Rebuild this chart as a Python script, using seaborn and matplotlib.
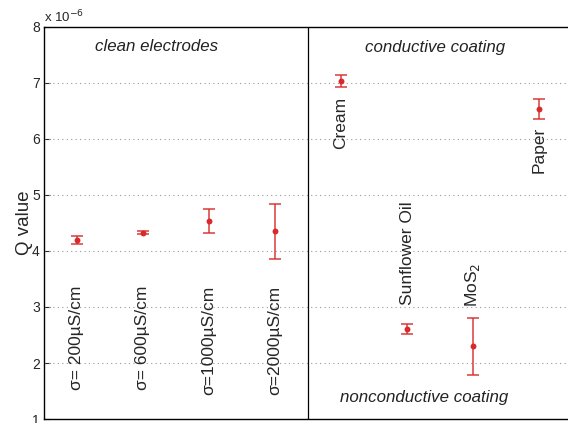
import matplotlib
matplotlib.use("Agg")
import matplotlib.pyplot as plt
import seaborn as sns
import numpy as np
import pandas as pd

# Data (Q value in units of 1e-6)
categories = ["σ= 200µS/cm", "σ= 600µS/cm", "σ=1000µS/cm", "σ=2000µS/cm",
              "Cream", "Sunflower Oil", "MoS$_2$", "Paper"]
q_mean = [4.19, 4.33, 4.54, 4.35, 7.04, 2.61, 2.30, 6.54]
q_low = [4.12, 4.31, 4.33, 3.85, 6.92, 2.52, 1.79, 6.36]
q_high = [4.26, 4.35, 4.75, 4.84, 7.15, 2.70, 2.81, 6.71]
group_labels = ["clean electrodes", "conductive coating", "nonconductive coating"]
yticks = [1, 2, 3, 4, 5, 6, 7, 8]

df = pd.DataFrame({"pos": np.arange(1, len(categories) + 1), "q": q_mean,
                   "lo": q_low, "hi": q_high, "label": categories})

sns.set_style("white")
plt.rcParams["font.family"] = ["Liberation Sans", "DejaVu Sans"]

fig = plt.figure(figsize=(5.68, 4.23), dpi=100)
ax = fig.add_axes([44 / 568, 1 - 419 / 423, 528 / 568, (419 - 27) / 423])

red = "#d82a2a"
ax.errorbar(df["pos"], df["q"],
            yerr=[df["q"] - df["lo"], df["hi"] - df["q"]],
            fmt="none", ecolor=red, elinewidth=1.2, capsize=4.2, capthick=1.2,
            alpha=0.85, zorder=3)
sns.scatterplot(data=df, x="pos", y="q", color=red, s=18, edgecolor=red,
                linewidth=0, ax=ax, zorder=4)

ax.set_xlim(0.5, 8.5)
ax.set_ylim(1, 8)
ax.set_yticks(yticks)
ax.set_yticklabels([str(t) for t in yticks], fontsize=10)
ax.set_xticks([])
ax.set_xlabel("")
ax.set_ylabel("Q value", fontsize=13.5, labelpad=-1)
ax.tick_params(axis="y", direction="in", length=4, width=0.8, pad=3, left=True)

for s in ["left", "top", "bottom"]:
    ax.spines[s].set_color("black")
    ax.spines[s].set_linewidth(1.0)
ax.spines["right"].set_visible(False)

for t in yticks[1:-1]:
    ax.axhline(t, color="#9a9a9a", linestyle=(0, (1, 3)), linewidth=0.8, zorder=1)
ax.axvline(4.5, color="black", linewidth=0.9, zorder=2)

# Offset text
ax.text(0.0, 1.005, "x 10$^{-6}$", transform=ax.transAxes, fontsize=9.5,
        ha="left", va="bottom")

# Category labels (rotated)
lab_fs = 12.5
for i in range(4):
    ax.text(df["pos"][i], 3.38, categories[i], rotation=90, ha="center",
            va="top", fontsize=lab_fs)
ax.text(df["pos"][4], 6.76, categories[4], rotation=90, ha="center", va="top", fontsize=lab_fs)
ax.text(df["pos"][7], 6.22, categories[7], rotation=90, ha="center", va="top", fontsize=lab_fs)
ax.text(df["pos"][5], 3.03, categories[5], rotation=90, ha="center", va="bottom", fontsize=lab_fs)
ax.text(df["pos"][6], 3.0, categories[6], rotation=90, ha="center", va="bottom", fontsize=lab_fs)

# Group annotations
grp_fs = 12.2
ax.text(2.21, 7.66, group_labels[0], style="italic", ha="center", va="center", fontsize=grp_fs, color="#222222")
ax.text(6.43, 7.63, group_labels[1], style="italic", ha="center", va="center", fontsize=grp_fs, color="#222222")
ax.text(6.26, 1.39, group_labels[2], style="italic", ha="center", va="center", fontsize=grp_fs, color="#222222")

fig.savefig("out.png", dpi=100)
